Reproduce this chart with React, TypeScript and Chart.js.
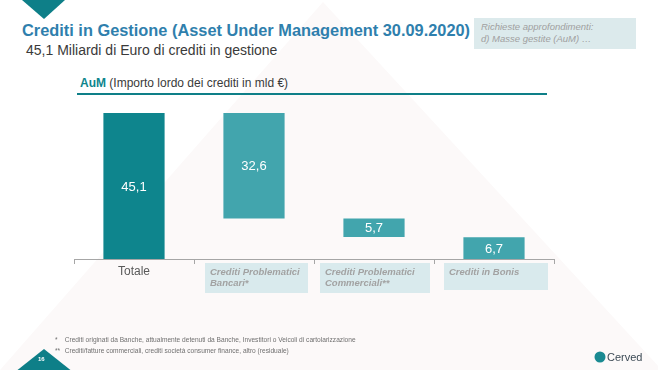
import React, { useEffect, useRef } from "react";
import { Chart, registerables } from "chart.js";

Chart.register(...registerables);

// ---- data ----
const categories = ["Totale", "Crediti Problematici Bancari*", "Crediti Problematici Commerciali**", "Crediti in Bonis"];
const barStarts = [0, 12.5, 6.8, 0];
const barEnds = [45.1, 45.1, 12.5, 6.7];
const valueLabels = ["45,1", "32,6", "5,7", "6,7"];
const labelLines = [["Totale"], ["Crediti Problematici", "Bancari*"], ["Crediti Problematici", "Commerciali**"], ["Crediti in Bonis"]];
const barColors = ["#0e858d", "#42a5ad", "#42a5ad", "#42a5ad"];
const yMax = 50;

const FONT = "'Liberation Sans', Arial, sans-serif";

const labelPlugin = {
  id: "waterfallLabels",
  afterDatasetsDraw(chart: any) {
    const ctx = chart.ctx;
    const meta = chart.getDatasetMeta(0);
    ctx.save();
    ctx.fillStyle = "#ffffff";
    ctx.font = `13px ${FONT}`;
    ctx.textAlign = "center";
    ctx.textBaseline = "middle";
    meta.data.forEach((bar: any, i: number) => {
      const cy = (bar.y + bar.base) / 2;
      ctx.fillText(valueLabels[i], bar.x, cy + 1);
    });
    ctx.restore();
  },
  afterDraw(chart: any) {
    const ctx = chart.ctx;
    const xs = chart.scales.x;
    const catW = xs.width / categories.length;
    const axisY = chart.chartArea.bottom;
    ctx.save();
    categories.forEach((_, i) => {
      const center = xs.getPixelForValue(i);
      const left = center - catW / 2;
      const lines = labelLines[i];
      if (i === 0) {
        ctx.fillStyle = "#595959";
        ctx.font = `12px ${FONT}`;
        ctx.textAlign = "center";
        ctx.textBaseline = "middle";
        ctx.fillText(lines[0], center, axisY + 13);
      } else {
        const boxOffsets = [0, 11, 6, 10];
        const boxWidths = [0, 103, 110, 104];
        const boxHeights = [0, 30, 30, 27];
        const bx = left + boxOffsets[i];
        ctx.fillStyle = "#d9eaed";
        ctx.fillRect(bx, axisY + 4, boxWidths[i], boxHeights[i]);
        ctx.fillStyle = "#a2a2a2";
        ctx.font = `italic bold 9.5px ${FONT}`;
        ctx.textAlign = "left";
        ctx.textBaseline = "middle";
        lines.forEach((t, k) => {
          ctx.fillText(t, bx + 5, axisY + 13 + k * 11);
        });
      }
    });
    ctx.restore();
  },
};

function WaterfallChart() {
  const ref = useRef<HTMLCanvasElement | null>(null);
  useEffect(() => {
    if (!ref.current) return;
    const chart = new Chart(ref.current, {
      type: "bar",
      data: {
        labels: categories,
        datasets: [
          {
            data: barStarts.map((s, i) => [s, barEnds[i]]) as any,
            backgroundColor: barColors,
            borderWidth: 0,
            categoryPercentage: 1,
            barPercentage: 0.51,
          },
        ],
      },
      options: {
        responsive: false,
        animation: false,
        maintainAspectRatio: false,
        layout: { padding: { left: 74, right: 104, top: 97, bottom: 106 } },
        plugins: { legend: { display: false }, tooltip: { enabled: false } },
        scales: {
          x: {
            grid: { display: true, drawOnChartArea: false, drawTicks: true, tickLength: 5, color: "#a6a6a6", offset: true },
            border: { display: true, color: "#a6a6a6", width: 1 },
            ticks: { display: false },
          },
          y: { display: false, min: 0, max: yMax },
        },
      },
      plugins: [labelPlugin],
    });
    return () => chart.destroy();
  }, []);
  return <canvas ref={ref} width={658} height={370} style={{ position: "absolute", left: 0, top: 0, width: 658, height: 370 }} />;
}

export default function App() {
  const abs = (o: any) => ({ position: "absolute" as const, whiteSpace: "nowrap" as const, ...o });
  return (
    <div style={{ position: "fixed", left: 0, top: 0, width: 658, height: 370, background: "#ffffff", overflow: "hidden", fontFamily: FONT }}>
      <svg width={658} height={370} style={{ position: "absolute", left: 0, top: 0 }}>
        <polygon points="0,370 323,2 662,370" fill="#fcf9f9" />
        <polygon points="22,0 65,0 44,19" fill="#0e7f88" />
        <polygon points="15,372 44,349 73,372" fill="#0e7f88" />
        <circle cx={600} cy={357} r={5.5} fill="#1a8a92" />
      </svg>
      <div style={abs({ left: 22, top: 21, fontSize: 17, fontWeight: "bold", color: "#2f7fad", lineHeight: "20px", transformOrigin: "left", transform: "scaleX(0.962)" })}>
        Crediti in Gestione (Asset Under Management 30.09.2020)
      </div>
      <div style={abs({ left: 26, top: 42, fontSize: 14, color: "#3a3a3a", lineHeight: "16px" })}>
        45,1 Miliardi di Euro di crediti in gestione
      </div>
      <div style={abs({ left: 474, top: 18, width: 162, height: 31, background: "#dceaec" })} />
      <div style={abs({ left: 481, top: 21, fontSize: 9.5, fontStyle: "italic", color: "#a0a0a0", lineHeight: "12px" })}>
        Richieste approfondimenti:
        <br />
        d) Masse gestite (AuM) …
      </div>
      <div style={abs({ left: 80, top: 76, fontSize: 12, color: "#3a3a3a", lineHeight: "15px" })}>
        <b style={{ color: "#0e858d" }}>AuM</b> (Importo lordo dei crediti in mld €)
      </div>
      <div style={abs({ left: 77, top: 93, width: 470, height: 1.5, background: "#0e7f88" })} />
      <WaterfallChart />
      <div style={abs({ left: 55, top: 334, fontSize: 7.5, color: "#707070", lineHeight: "11px", transformOrigin: "left", transform: "scaleX(0.88)" })}>
        <div>
          <span style={{ display: "inline-block", width: 11 }}>*</span>Crediti originati da Banche, attualmente detenuti da Banche, Investitori o Veicoli di cartolarizzazione
        </div>
        <div>
          <span style={{ display: "inline-block", width: 11 }}>**</span>Crediti/fatture commerciali, crediti società consumer finance, altro (residuale)
        </div>
      </div>
      <div style={abs({ left: 38, top: 356, fontSize: 6, fontWeight: "bold", color: "#ffffff" })}>16</div>
      <div style={abs({ left: 607, top: 350, fontSize: 11, color: "#3c4a55", lineHeight: "14px" })}>Cerved</div>
    </div>
  );
}
